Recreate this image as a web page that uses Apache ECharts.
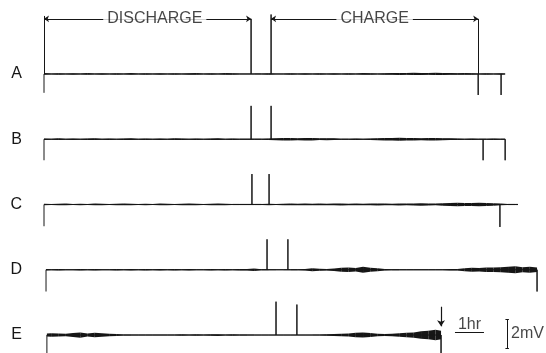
<!DOCTYPE html>
<html>
<head>
<meta charset="utf-8">
<script src="https://cdn.jsdelivr.net/npm/echarts@6/dist/echarts.min.js"></script>
<style>
  html, body { margin: 0; background: #fff; }
  #chart { width: 546px; height: 353px; }
</style>
</head>
<body>
<div id="chart"></div>
<script>
  // time in hours, signal in mV
  const traceNames = ['A', 'B', 'C', 'D', 'E']
  const traceOffsets = [18, 13.5, 9, 4.5, 0]
  const traceStarts = [0, 0, 0, 0.07, 0.1]
  const traceEnds = [15.9, 15.9, 16.34, 17.0, 13.69]
  const spikeTimes = [[7.14, 7.83], [7.14, 7.83], [7.17, 7.76], [7.69, 8.41], [8.0, 8.72]]
  const spikeHeights = [[3.8, 4.1], [2.3, 2.3], [2.1, 2.1], [2.1, 2.1], [2.3, 2.1]]
  const endMarkTimes = [[14.97, 15.76], [15.14, 15.9], [15.72], [17.0], [13.69]]
  const startMarkDepth = [1.3, 1.45, 1.5, 1.5, 1.25]
  const endMarkDepth = [1.45, 1.45, 1.55, 1.5, 1.25]

  // noise half-amplitude (mV), one value every 0.25 hr
  const noiseStep = 0.25
  const noiseA = [0.06, 0.04, 0.05, 0.03, 0.05, 0.04, 0.06, 0.04, 0.05, 0.03,
    0.05, 0.04, 0.06, 0.04, 0.05, 0.03, 0.05, 0.04, 0.05, 0.04,
    0.05, 0.06, 0.04, 0.05, 0.04, 0.06, 0.05, 0.04, 0.03, 0.04,
    0.04, 0.05, 0.04, 0.03, 0.05, 0.04, 0.05, 0.04, 0.05, 0.04,
    0.05, 0.04, 0.05, 0.04, 0.06, 0.05, 0.04, 0.05, 0.06, 0.07,
    0.06, 0.08, 0.07, 0.06, 0.08, 0.07, 0.06, 0.05, 0.06, 0.05,
    0.04, 0.05, 0.04, 0.05, 0.04]
  const noiseB = [0.05, 0.04, 0.06, 0.04, 0.05, 0.04, 0.05, 0.06, 0.04, 0.05,
    0.04, 0.05, 0.06, 0.04, 0.05, 0.04, 0.05, 0.04, 0.06, 0.05,
    0.04, 0.05, 0.04, 0.05, 0.06, 0.04, 0.05, 0.04, 0.04, 0.04,
    0.04, 0.05, 0.07, 0.09, 0.08, 0.07, 0.09, 0.08, 0.06, 0.07,
    0.06, 0.04, 0.04, 0.05, 0.04, 0.05, 0.07, 0.09, 0.08, 0.1,
    0.08, 0.09, 0.07, 0.08, 0.09, 0.07, 0.06, 0.05, 0.04, 0.05,
    0.04, 0.04, 0.05, 0.04, 0.04]
  const noiseC = [0.05, 0.04, 0.05, 0.06, 0.04, 0.05, 0.04, 0.06, 0.05, 0.04,
    0.05, 0.06, 0.05, 0.04, 0.05, 0.04, 0.06, 0.05, 0.04, 0.05,
    0.06, 0.05, 0.04, 0.05, 0.06, 0.05, 0.04, 0.04, 0.04, 0.04,
    0.04, 0.05, 0.04, 0.05, 0.06, 0.05, 0.06, 0.05, 0.06, 0.05,
    0.06, 0.07, 0.05, 0.06, 0.05, 0.06, 0.07, 0.06, 0.05, 0.07,
    0.06, 0.07, 0.08, 0.07, 0.06, 0.09, 0.1, 0.12, 0.1, 0.11,
    0.12, 0.1, 0.08, 0.06, 0.04, 0.04, 0.04]
  const noiseD = [0.05, 0.04, 0.05, 0.04, 0.03, 0.05, 0.04, 0.05, 0.04, 0.03,
    0.05, 0.04, 0.05, 0.04, 0.06, 0.04, 0.05, 0.04, 0.05, 0.04,
    0.05, 0.04, 0.03, 0.05, 0.04, 0.05, 0.04, 0.06, 0.05, 0.08,
    0.04, 0.04, 0.03, 0.03, 0.04, 0.04, 0.05, 0.1, 0.07, 0.05,
    0.08, 0.13, 0.15, 0.12, 0.2, 0.14, 0.1, 0.05, 0.04, 0.04,
    0.03, 0.04, 0.03, 0.04, 0.03, 0.04, 0.05, 0.06, 0.1, 0.14,
    0.12, 0.16, 0.15, 0.18, 0.2, 0.24, 0.17, 0.2, 0.15]
  const noiseE = [0.1, 0.12, 0.1, 0.09, 0.14, 0.18, 0.1, 0.16, 0.12, 0.09,
    0.07, 0.04, 0.04, 0.03, 0.04, 0.03, 0.04, 0.03, 0.04, 0.05,
    0.04, 0.05, 0.04, 0.05, 0.06, 0.04, 0.05, 0.04, 0.04, 0.03,
    0.03, 0.03, 0.03, 0.03, 0.03, 0.03, 0.03, 0.03, 0.04, 0.05,
    0.07, 0.08, 0.1, 0.15, 0.17, 0.14, 0.09, 0.07, 0.08, 0.12,
    0.16, 0.18, 0.26, 0.3, 0.36, 0.3]
  const noiseAll = [noiseA, noiseB, noiseC, noiseD, noiseE]

  // annotations
  const dischargeSpan = [0, 7.14]
  const chargeSpan = [7.83, 14.97]
  const bracketLevel = 21.8
  const hourBar = [14.17, 15.17]
  const hourBarLevel = 0.2
  const mvBarTime = 15.97
  const mvBar = [-0.9, 1.1]
  const stopArrowTime = 13.69
  const stopArrow = [1.95, 0.6]

  const ink = '#161616'
  const font = "'Liberation Sans', Arial, sans-serif"

  function tracePath(k) {
    const off = traceOffsets[k]
    const events = []
    spikeTimes[k].forEach((t, j) => events.push([t, spikeHeights[k][j]]))
    endMarkTimes[k].forEach(t => events.push([t, -endMarkDepth[k]]))
    events.sort((a, b) => a[0] - b[0])
    const pts = [[traceStarts[k], off - startMarkDepth[k]], [traceStarts[k], off]]
    events.forEach(([t, dy]) => {
      pts.push([t, off], [t, off + dy], [t, off])
    })
    pts.push([traceEnds[k], off])
    return pts
  }

  function noiseSegments() {
    const segs = []
    noiseAll.forEach((amps, k) => {
      for (let i = 0; i < amps.length - 1; i++) {
        const t0 = Math.max(i * noiseStep, traceStarts[k])
        const t1 = Math.min((i + 1) * noiseStep, traceEnds[k])
        if (t0 >= t1) continue
        segs.push([t0, t1, traceOffsets[k], amps[i], amps[i + 1]])
      }
    })
    return segs
  }

  const chart = echarts.init(document.getElementById('chart'))

  const series = traceNames.map((name, k) => ({
    name: name,
    type: 'line',
    data: tracePath(k),
    showSymbol: false,
    symbol: 'none',
    lineStyle: { color: ink, width: 1 },
    animation: false,
    z: 3
  }))

  series.push({
    type: 'custom',
    data: noiseSegments(),
    encode: { x: [0, 1], y: 2 },
    animation: false,
    z: 2,
    renderItem(params, api) {
      const t0 = api.value(0), t1 = api.value(1), off = api.value(2)
      const a0 = api.value(3), a1 = api.value(4)
      return {
        type: 'polygon',
        shape: {
          points: [
            api.coord([t0, off + a0]), api.coord([t1, off + a1]),
            api.coord([t1, off - a1]), api.coord([t0, off - a0])
          ]
        },
        style: { fill: ink }
      }
    }
  })

  // DISCHARGE / CHARGE brackets
  series.push({
    type: 'lines',
    coordinateSystem: 'cartesian2d',
    symbol: ['arrow', 'arrow'],
    symbolSize: 5,
    lineStyle: { color: ink, width: 1, opacity: 1 },
    animation: false,
    data: [
      { coords: [[dischargeSpan[0], bracketLevel], [dischargeSpan[1], bracketLevel]] },
      { coords: [[chargeSpan[0], bracketLevel], [chargeSpan[1], bracketLevel]] }
    ]
  })
  series.push({
    type: 'lines',
    coordinateSystem: 'cartesian2d',
    lineStyle: { color: ink, width: 1, opacity: 1 },
    animation: false,
    data: [
      { coords: [[dischargeSpan[0], traceOffsets[0]], [dischargeSpan[0], bracketLevel + 0.2]] },
      { coords: [[chargeSpan[1], traceOffsets[0]], [chargeSpan[1], bracketLevel]] },
      // scale bars
      { coords: [[hourBar[0], hourBarLevel], [hourBar[1], hourBarLevel]] },
      { coords: [[mvBarTime, mvBar[0]], [mvBarTime, mvBar[1]]] },
      { coords: [[mvBarTime - 0.06, mvBar[0]], [mvBarTime + 0.06, mvBar[0]]] },
      { coords: [[mvBarTime - 0.06, mvBar[1]], [mvBarTime + 0.06, mvBar[1]]] }
    ]
  })
  series.push({
    type: 'lines',
    coordinateSystem: 'cartesian2d',
    data: [{ coords: [[stopArrowTime, stopArrow[0]], [stopArrowTime, stopArrow[1]]] }],
    symbol: ['none', 'arrow'],
    symbolSize: 6,
    lineStyle: { color: ink, width: 1.2, opacity: 1 },
    animation: false
  })

  // text
  series.push({
    type: 'scatter',
    symbolSize: 1,
    itemStyle: { color: 'rgba(0,0,0,0)' },
    animation: false,
    z: 5,
    label: {
      show: true,
      position: 'inside',
      formatter: '{b}',
      color: ink,
      fontFamily: font,
      fontSize: 16,
      backgroundColor: '#fff',
      padding: [0, 4]
    },
    data: [
      { name: 'DISCHARGE', value: [(dischargeSpan[0] + dischargeSpan[1]) / 2 + 0.25, bracketLevel] },
      { name: 'CHARGE', value: [(chargeSpan[0] + chargeSpan[1]) / 2, bracketLevel] },
      { name: '1hr', value: [(hourBar[0] + hourBar[1]) / 2, hourBarLevel + 0.55], label: { backgroundColor: 'transparent' } },
      { name: '2mV', value: [mvBarTime + 0.7, (mvBar[0] + mvBar[1]) / 2], label: { backgroundColor: 'transparent' } }
    ]
  })

  chart.setOption({
    backgroundColor: '#fff',
    animation: false,
    grid: { left: 44, right: 7.5, top: 0, bottom: 0 },
    xAxis: {
      type: 'value',
      min: 0,
      max: 17.05,
      show: false
    },
    yAxis: {
      type: 'value',
      min: -1.24,
      max: 23.1,
      axisLine: { show: false },
      axisTick: { show: false },
      splitLine: { show: false },
      axisLabel: {
        customValues: traceOffsets,
        formatter: v => traceNames[traceOffsets.indexOf(v)] || '',
        color: ink,
        fontFamily: font,
        fontSize: 16,
        margin: 22
      }
    },
    series: series
  })
</script>
</body>
</html>
